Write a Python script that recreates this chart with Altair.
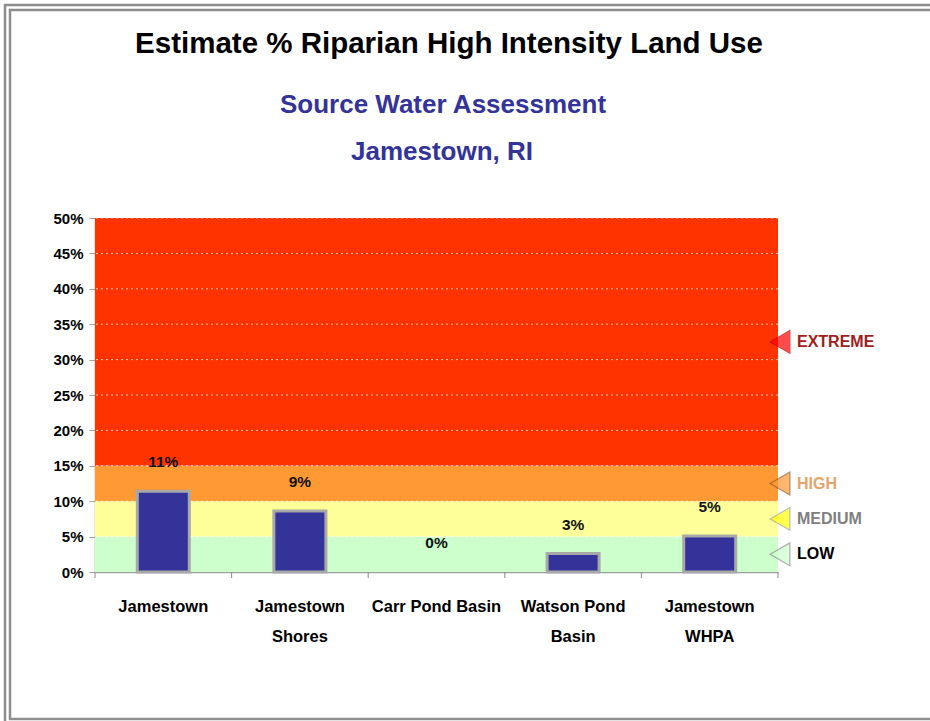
import altair as alt
import pandas as pd

# Sites and their estimated riparian high-intensity land use (%)
sites = ["Jamestown", "Jamestown\nShores", "Carr Pond Basin", "Watson Pond\nBasin", "Jamestown\nWHPA"]
pct = [11.4, 8.6, 0.0, 2.6, 5.1]

# Risk zones drawn behind the bars
zone_names = ["LOW", "MEDIUM", "HIGH", "EXTREME"]
zone_lo = [0, 5, 10, 15]
zone_hi = [5, 10, 15, 50]
zone_marker_at = [2.5, 7.5, 12.5, 32.5]

y_ticks = [0, 5, 10, 15, 20, 25, 30, 35, 40, 45, 50]

zone_fill = ["#CCFFCC", "#FFFF99", "#FF9933", "#FF3300"]
marker_fill = ["#CCFFCC", "#FFFF00", "#FF9933", "#FF0000"]
marker_stroke = ["#8A8A8A", "#A0A0A0", "#8A5A2A", "#C00000"]
zone_text_color = ["#000000", "#808080", "#E8A468", "#A31C1C"]

W, H = 683, 354
FONT = "Liberation Sans"
FRAME = "#8E8E8E"

bars_df = pd.DataFrame({"site": sites, "pct": pct})
zones_df = pd.DataFrame({
    "zone": zone_names, "lo": zone_lo, "hi": zone_hi, "mid": zone_marker_at,
    "fill": zone_fill, "mfill": marker_fill, "mstroke": marker_stroke, "tcolor": zone_text_color,
})
grid_df = pd.DataFrame({"v": y_ticks[1:]})

y_scale = alt.Scale(domain=[0, 50], nice=False, zero=True)
x_scale = alt.Scale(domain=sites, paddingInner=0, paddingOuter=0)

axis_x = alt.Axis(
    title=None, labelAngle=0, ticks=False, domainColor="#A0A0A0", domainWidth=1.5,
    labelFont=FONT, labelFontWeight="bold", labelFontSize=16.5, labelColor="#000000",
    labelPadding=26, labelLineHeight=30, labelExpr="split(datum.label, '\\n')",
)
axis_y = alt.Axis(
    title=None, values=y_ticks, labelExpr="datum.value + '%'", grid=False, labelOverlap=False,
    domainColor="#A0A0A0", domainWidth=1.5, tickColor="#A0A0A0", tickSize=6,
    labelFont=FONT, labelFontWeight="bold", labelFontSize=15, labelColor="#000000", labelPadding=6,
)


def yq(field):
    return alt.Y(field, scale=y_scale, axis=axis_y)


def xn(**kw):
    return alt.X("site:N", scale=x_scale, axis=axis_x, sort=sites, **kw)


# Page frame (double grey line)
frame_outer = alt.Chart(pd.DataFrame({"k": [0]})).mark_rect(
    fill=None, stroke=FRAME, strokeWidth=2.5
).encode(x=alt.value(-90), x2=alt.value(W + 170), y=alt.value(-213), y2=alt.value(H + 160))
frame_inner = alt.Chart(pd.DataFrame({"k": [0]})).mark_rect(
    fill=None, stroke=FRAME, strokeWidth=2.5
).encode(x=alt.value(-85), x2=alt.value(W + 170), y=alt.value(-208), y2=alt.value(H + 147))

# Titles
title_main = alt.Chart(pd.DataFrame({"t": ["Estimate % Riparian High Intensity Land Use"]})).mark_text(
    font=FONT, fontWeight="bold", fontSize=29.5, color="#000000", align="center", baseline="alphabetic"
).encode(text="t:N", x=alt.value(354), y=alt.value(-165))
title_sub1 = alt.Chart(pd.DataFrame({"t": ["Source Water Assessment"]})).mark_text(
    font=FONT, fontWeight="bold", fontSize=26, color="#333399", align="center", baseline="alphabetic"
).encode(text="t:N", x=alt.value(348), y=alt.value(-105))
title_sub2 = alt.Chart(pd.DataFrame({"t": ["Jamestown, RI"]})).mark_text(
    font=FONT, fontWeight="bold", fontSize=26, color="#333399", align="center", baseline="alphabetic"
).encode(text="t:N", x=alt.value(347), y=alt.value(-58))

# Coloured risk zones
zones = alt.Chart(zones_df).mark_rect().encode(
    x=alt.value(0), x2=alt.value(W),
    y=yq("lo:Q"), y2="hi:Q",
    fill=alt.Fill("fill:N", scale=None),
)

# Dashed gridlines
grid = alt.Chart(grid_df).mark_rule(color="#FFFFFF", strokeDash=[2, 3], strokeWidth=1, opacity=0.7).encode(
    y=yq("v:Q")
)

bars = alt.Chart(bars_df).transform_filter("datum.pct > 0").mark_bar(
    size=52, color="#333399", stroke="#A8A8A8", strokeWidth=3
).encode(x=xn(), y=yq("pct:Q"))

value_labels = alt.Chart(bars_df).transform_calculate(
    label="format(datum.pct, '.0f') + '%'"
).mark_text(
    font=FONT, fontWeight="bold", fontSize=15.5, color="#111111", dy=-29, baseline="middle"
).encode(x=xn(), y=yq("pct:Q"), text="label:N")

# Tick marks at category boundaries
x_ticks = alt.Chart(bars_df).mark_rule(color="#8A8A8A", strokeWidth=1).encode(
    x=xn(bandPosition=0), y=alt.value(H), y2=alt.value(H + 6),
)
x_tick_end = alt.Chart(pd.DataFrame({"k": [0]})).mark_rule(color="#8A8A8A", strokeWidth=1).encode(
    x=alt.value(W), y=alt.value(H), y2=alt.value(H + 6)
)

# Zone markers on the right edge
markers = alt.Chart(zones_df).mark_point(shape="triangle-left", filled=True, size=520, strokeWidth=1.2).encode(
    x=alt.value(W + 2),
    y=yq("mid:Q"),
    fill=alt.Fill("mfill:N", scale=None),
    stroke=alt.Stroke("mstroke:N", scale=None),
)
marker_text = alt.Chart(zones_df).mark_text(
    font=FONT, fontWeight="bold", fontSize=16, align="left", baseline="middle"
).encode(
    x=alt.value(W + 19),
    y=yq("mid:Q"),
    text="zone:N",
    color=alt.Color("tcolor:N", scale=None),
)

chart = alt.layer(
    frame_outer, frame_inner, title_main, title_sub1, title_sub2,
    zones, grid, bars, value_labels, x_ticks, x_tick_end, markers, marker_text,
).properties(
    width=W, height=H,
    autosize=alt.AutoSizeParams(type="none"),
    padding={"left": 95, "top": 218, "right": 930 - 95 - W, "bottom": 721 - 218 - H},
    background="#FFFFFF",
).configure_view(stroke=None)

chart.save("out.html", embed_options={"renderer": "svg", "actions": False})
